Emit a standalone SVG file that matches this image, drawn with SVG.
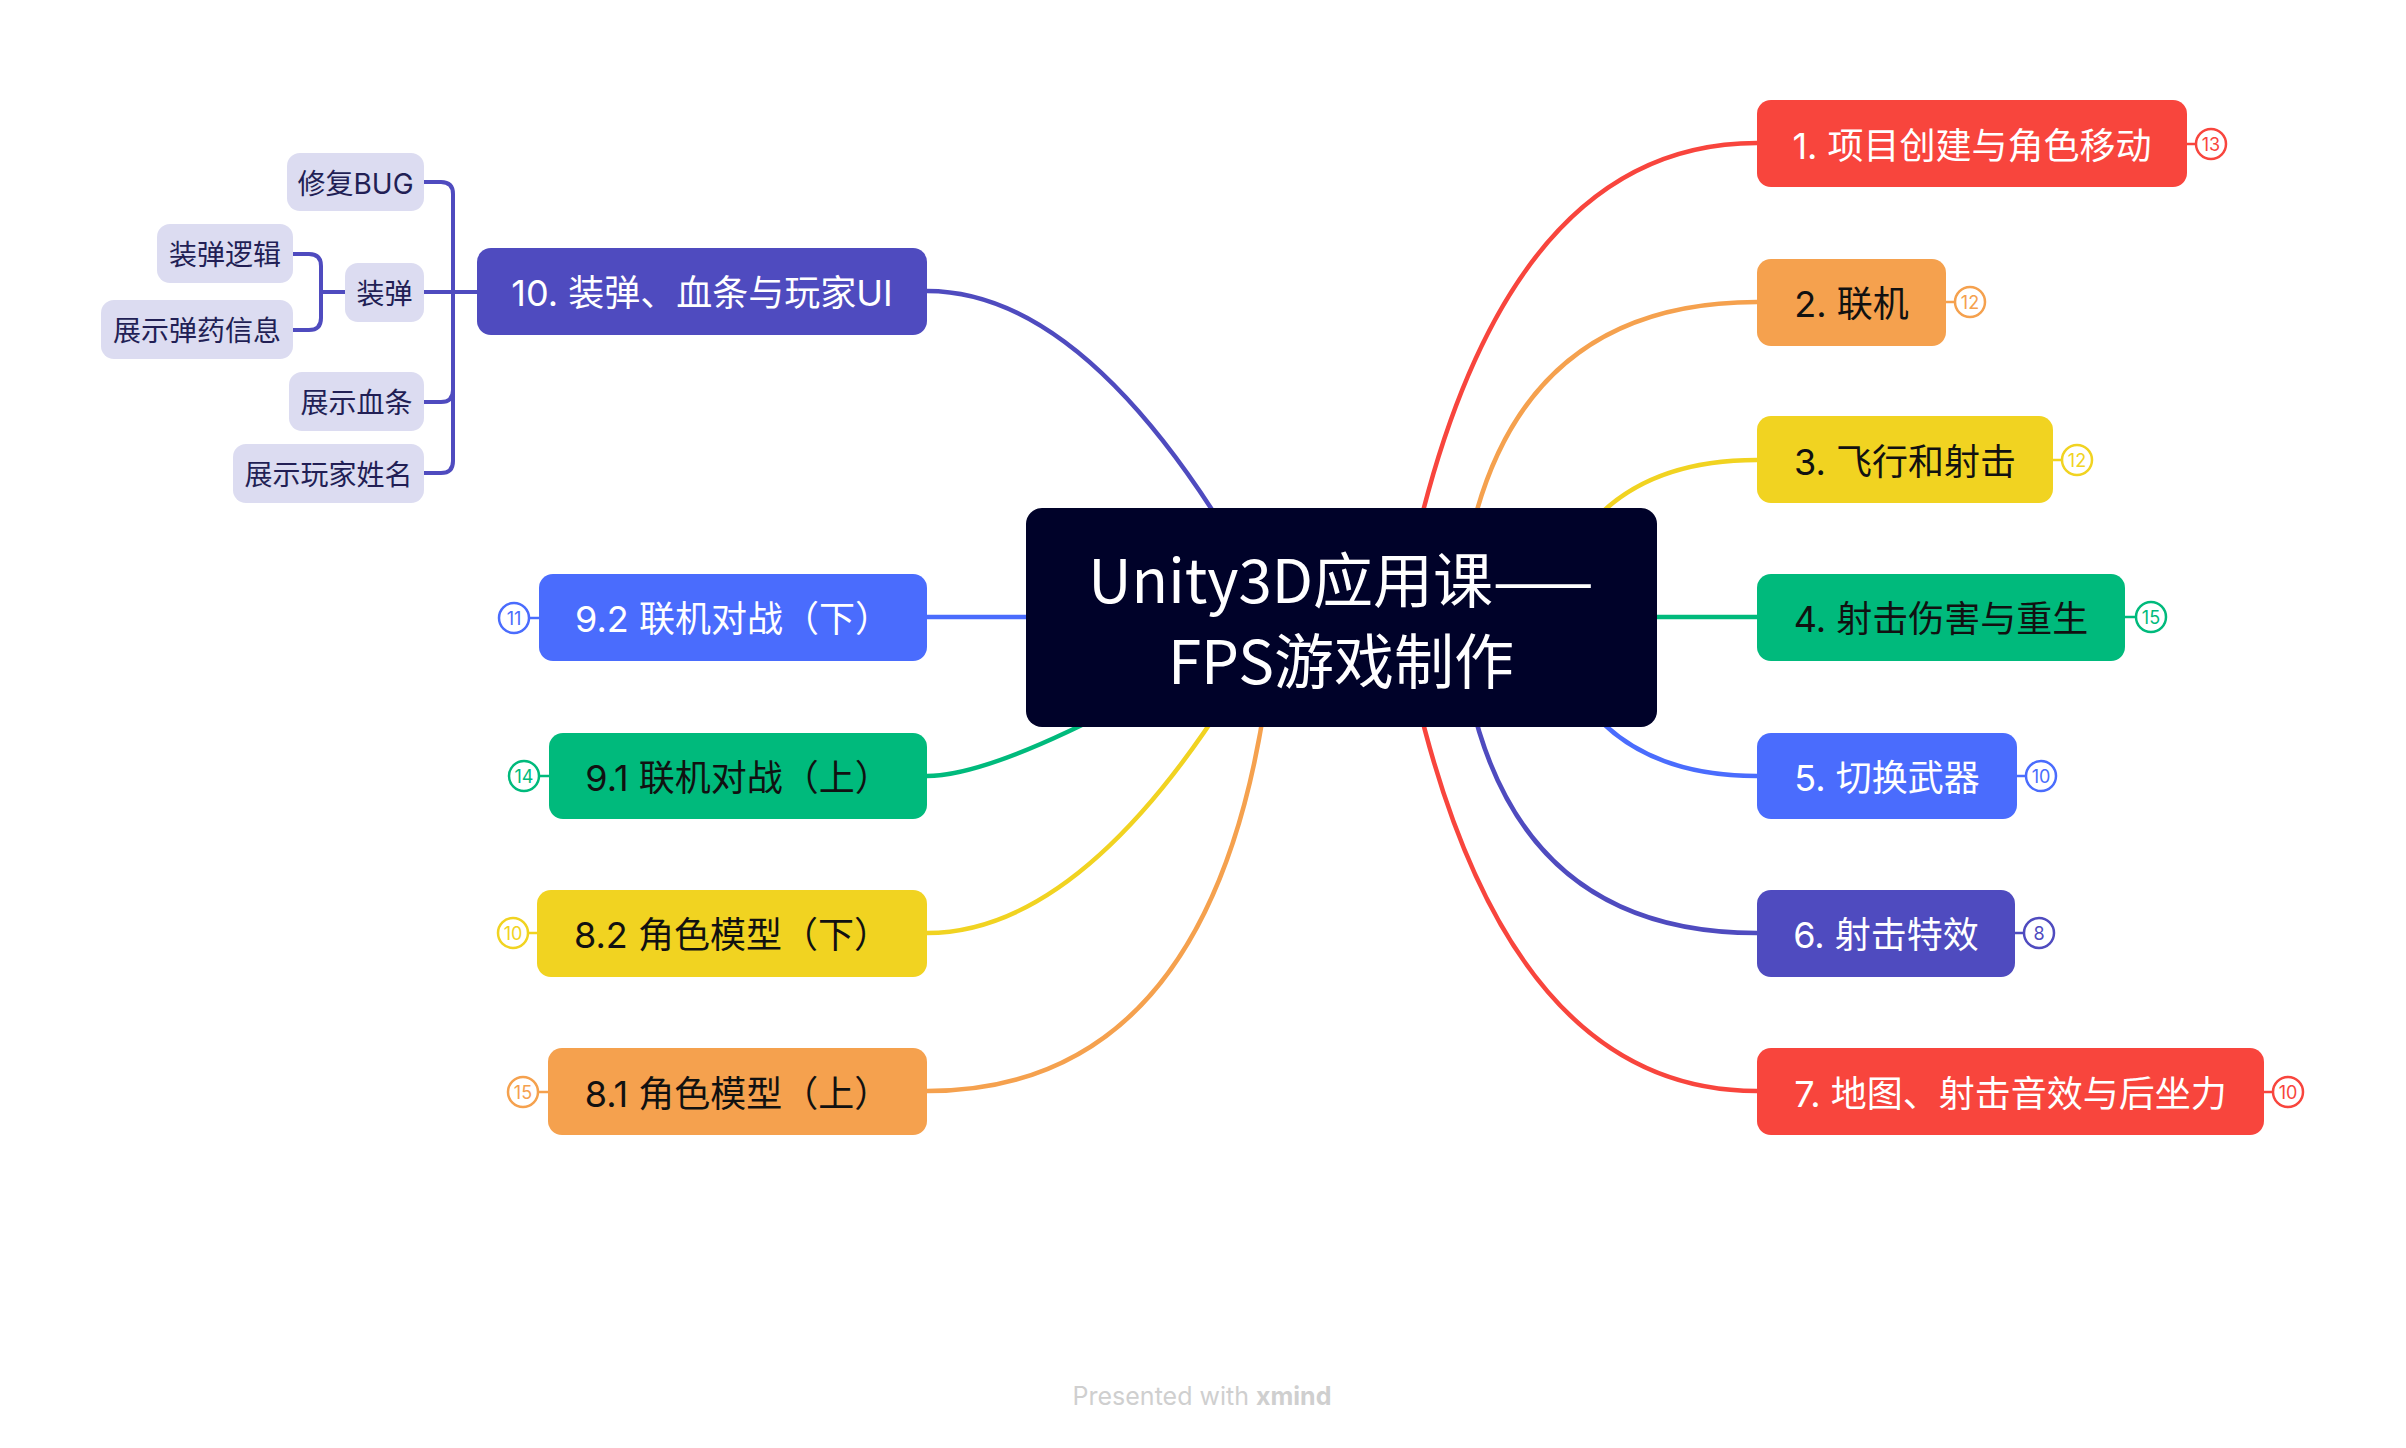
<svg xmlns="http://www.w3.org/2000/svg" width="2406" height="1448" viewBox="0 0 2406 1448">
<style>
.t{font-family:"Inter","Noto Sans CJK SC",sans-serif;font-size:36px;text-anchor:middle}
.w{fill:#ffffff}
.k{fill:#111111}
.c{fill:none;stroke-width:4.5;stroke-linecap:round}
.sub rect{fill:#dcdcf1}
.st{font-family:"Inter","Noto Sans CJK SC",sans-serif;font-size:28px;text-anchor:middle;fill:#221f55}
.bd{fill:#ffffff;stroke-width:2.5}
.bt{font-family:"Inter","Noto Sans CJK SC",sans-serif;font-size:18px;text-anchor:middle}
</style>
<rect width="2406" height="1448" fill="#ffffff"/>
<g id="connectors">
  <path class="c" stroke="#f8453d" d="M1400 617 Q1486 143 1757 143"/>
  <path class="c" stroke="#f5a14e" d="M1458 617 Q1486 302 1757 302"/>
  <path class="c" stroke="#f1d321" d="M1575 545 Q1630 460 1757 460"/>
  <path class="c" stroke="#00ba7c" d="M1600 617 H1757"/>
  <path class="c" stroke="#4a6cfd" d="M1575 689 Q1630 776 1757 776"/>
  <path class="c" stroke="#4f4bbf" d="M1458 617 Q1486 933 1757 933"/>
  <path class="c" stroke="#f8453d" d="M1400 617 Q1486 1091 1757 1091"/>
  <path class="c" stroke="#4f4bbf" d="M1275 617 Q1101 291 927 291"/>
  <path class="c" stroke="#4a6cfd" d="M1100 617 H927"/>
  <path class="c" stroke="#00ba7c" d="M1275 617 Q1015 776 927 776"/>
  <path class="c" stroke="#f1d321" d="M1275 617 Q1100 933 927 933"/>
  <path class="c" stroke="#f5a14e" d="M1275 617 Q1236 1091 927 1091"/>
  <g fill="none" stroke="#4f4bbf" stroke-width="4">
    <path d="M424 182 H441 Q453 182 453 194 V461 Q453 473 441 473 H424"/>
    <path d="M424 402 H441 Q453 402 453 390"/>
    <path d="M424 292 H477"/>
    <path d="M293 254 H309 Q321 254 321 266 V318 Q321 330 309 330 H293"/>
    <path d="M321 292 H345"/>
  </g>
  <g stroke-width="2.5">
    <path stroke="#f8453d" d="M2187 144 H2196"/>
    <path stroke="#f5a14e" d="M1946 302 H1955"/>
    <path stroke="#f1d321" d="M2053 460 H2062"/>
    <path stroke="#00ba7c" d="M2125 617 H2136"/>
    <path stroke="#4a6cfd" d="M2017 776 H2026"/>
    <path stroke="#4f4bbf" d="M2015 933 H2024"/>
    <path stroke="#f8453d" d="M2264 1092 H2273"/>
    <path stroke="#4a6cfd" d="M529 618 H539"/>
    <path stroke="#00ba7c" d="M539 776 H549"/>
    <path stroke="#f1d321" d="M528 933 H537"/>
    <path stroke="#f5a14e" d="M538 1092 H548"/>
  </g>
</g>
<g id="central">
  <rect x="1026" y="508" width="631" height="219" rx="16" fill="#000229"/>
  <text x="1341" y="603" font-family="'Noto Sans CJK SC',sans-serif" font-size="60" fill="#ffffff" text-anchor="middle">Unity3D应用课——</text>
  <text x="1341" y="684" font-family="'Noto Sans CJK SC',sans-serif" font-size="60" fill="#ffffff" text-anchor="middle">FPS游戏制作</text>
</g>
<g id="n1">
  <rect x="1757" y="100" width="430" height="87" rx="14" fill="#f8453d"/>
  <text class="t w" x="1972" y="158.5">1. 项目创建与角色移动</text>
  <circle class="bd" cx="2211" cy="144" r="15" stroke="#f8453d"/>
  <text class="bt" x="2211" y="150.5" fill="#f8453d">13</text>
</g>
<g id="n2">
  <rect x="1757" y="259" width="189" height="87" rx="14" fill="#f5a14e"/>
  <text class="t k" x="1851.5" y="316.5">2. 联机</text>
  <circle class="bd" cx="1970" cy="302" r="15" stroke="#f5a14e"/>
  <text class="bt" x="1970" y="308.5" fill="#f5a14e">12</text>
</g>
<g id="n3">
  <rect x="1757" y="416" width="296" height="87" rx="14" fill="#f1d321"/>
  <text class="t k" x="1905" y="474.5">3. 飞行和射击</text>
  <circle class="bd" cx="2077" cy="460" r="15" stroke="#f1d321"/>
  <text class="bt" x="2077" y="466.5" fill="#f1d321">12</text>
</g>
<g id="n4">
  <rect x="1757" y="574" width="368" height="87" rx="14" fill="#00ba7c"/>
  <text class="t k" x="1941" y="631.5">4. 射击伤害与重生</text>
  <circle class="bd" cx="2151" cy="617" r="15" stroke="#00ba7c"/>
  <text class="bt" x="2151" y="623.5" fill="#00ba7c">15</text>
</g>
<g id="n5">
  <rect x="1757" y="733" width="260" height="86" rx="14" fill="#4a6cfd"/>
  <text class="t w" x="1887" y="790.5">5. 切换武器</text>
  <circle class="bd" cx="2041" cy="776" r="15" stroke="#4a6cfd"/>
  <text class="bt" x="2041" y="782.5" fill="#4a6cfd">10</text>
</g>
<g id="n6">
  <rect x="1757" y="890" width="258" height="87" rx="14" fill="#4f4bbf"/>
  <text class="t w" x="1886" y="947.5">6. 射击特效</text>
  <circle class="bd" cx="2039" cy="933" r="15" stroke="#4f4bbf"/>
  <text class="bt" x="2039" y="939.5" fill="#4f4bbf">8</text>
</g>
<g id="n7">
  <rect x="1757" y="1048" width="507" height="87" rx="14" fill="#f8453d"/>
  <text class="t w" x="2010.5" y="1106.5">7. 地图、射击音效与后坐力</text>
  <circle class="bd" cx="2288" cy="1092" r="15" stroke="#f8453d"/>
  <text class="bt" x="2288" y="1098.5" fill="#f8453d">10</text>
</g>
<g id="n10">
  <rect x="477" y="248" width="450" height="87" rx="14" fill="#4f4bbf"/>
  <text class="t w" x="702" y="305.5">10. 装弹、血条与玩家UI</text>
</g>
<g id="n92">
  <rect x="539" y="574" width="388" height="87" rx="14" fill="#4a6cfd"/>
  <text class="t w" x="733" y="631.5">9.2 联机对战（下）</text>
  <circle class="bd" cx="514" cy="618" r="15" stroke="#4a6cfd"/>
  <text class="bt" x="514" y="624.5" fill="#4a6cfd">11</text>
</g>
<g id="n91">
  <rect x="549" y="733" width="378" height="86" rx="14" fill="#00ba7c"/>
  <text class="t k" x="738" y="790.5">9.1 联机对战（上）</text>
  <circle class="bd" cx="524" cy="776" r="15" stroke="#00ba7c"/>
  <text class="bt" x="524" y="782.5" fill="#00ba7c">14</text>
</g>
<g id="n82">
  <rect x="537" y="890" width="390" height="87" rx="14" fill="#f1d321"/>
  <text class="t k" x="732" y="947.5">8.2 角色模型（下）</text>
  <circle class="bd" cx="513" cy="933" r="15" stroke="#f1d321"/>
  <text class="bt" x="513" y="939.5" fill="#f1d321">10</text>
</g>
<g id="n81">
  <rect x="548" y="1048" width="379" height="87" rx="14" fill="#f5a14e"/>
  <text class="t k" x="737.5" y="1106.5">8.1 角色模型（上）</text>
  <circle class="bd" cx="523" cy="1092" r="15" stroke="#f5a14e"/>
  <text class="bt" x="523" y="1098.5" fill="#f5a14e">15</text>
</g>
<g id="s-bug" class="sub">
  <rect x="287" y="153" width="137" height="58" rx="13"/>
  <text class="st" x="355.5" y="193.5">修复BUG</text>
</g>
<g id="s-zd" class="sub">
  <rect x="345" y="263" width="79" height="59" rx="13"/>
  <text class="st" x="384.5" y="303.5">装弹</text>
</g>
<g id="s-zdlj" class="sub">
  <rect x="157" y="224" width="136" height="59" rx="13"/>
  <text class="st" x="225" y="264.5">装弹逻辑</text>
</g>
<g id="s-zsdy" class="sub">
  <rect x="101" y="300" width="192" height="59" rx="13"/>
  <text class="st" x="197" y="340.5">展示弹药信息</text>
</g>
<g id="s-xt" class="sub">
  <rect x="289" y="372" width="135" height="59" rx="13"/>
  <text class="st" x="356.5" y="412.5">展示血条</text>
</g>
<g id="s-xm" class="sub">
  <rect x="233" y="444" width="191" height="59" rx="13"/>
  <text class="st" x="328.5" y="484.5">展示玩家姓名</text>
</g>
<g id="footer">
  <text x="1202" y="1405" font-family="Inter,'Liberation Sans',sans-serif" font-size="25" fill="#cfcfcf" text-anchor="middle">Presented with <tspan font-weight="bold">xmind</tspan></text>
</g>
</svg>
